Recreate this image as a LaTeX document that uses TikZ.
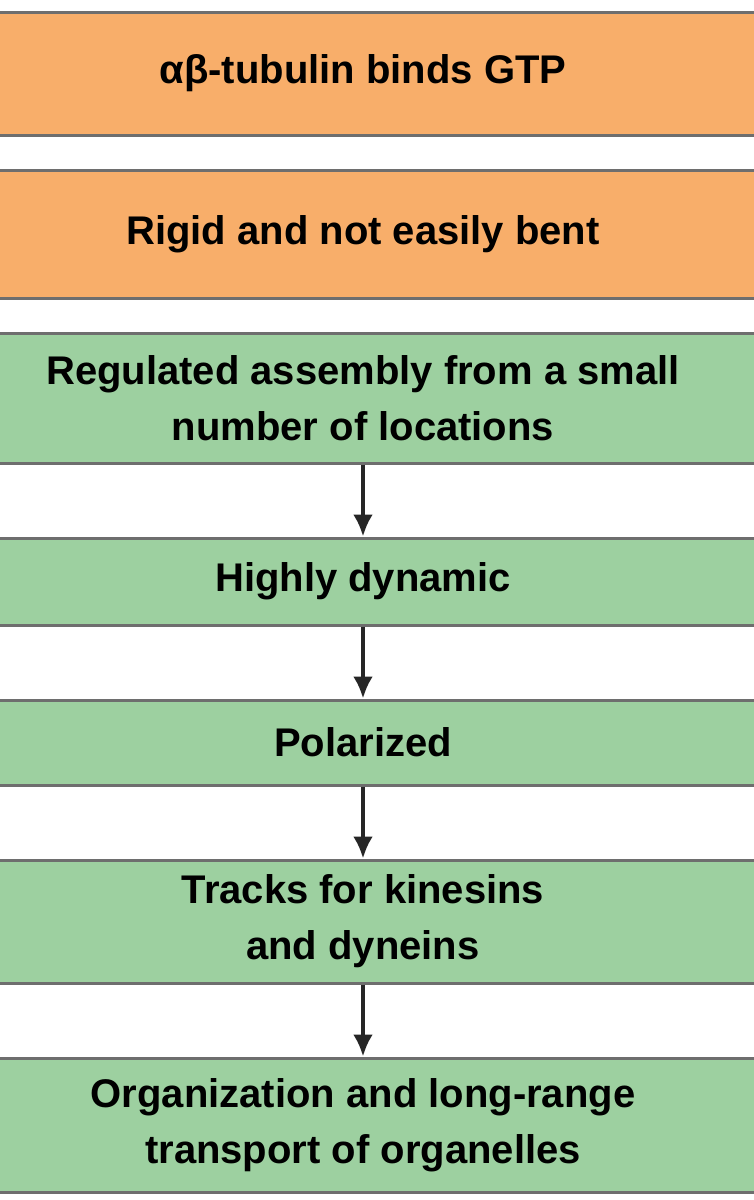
\documentclass[tikz,border=0pt]{standalone}
\usepackage{fontspec}
\setmainfont{Liberation Sans}
\definecolor{boxorange}{HTML}{F8AE6A}
\definecolor{boxgreen}{HTML}{9DD0A0}
\definecolor{boxedge}{HTML}{6E6E6E}
\tikzset{
  propbox/.style={draw=boxedge, line width=3pt, minimum width=820pt, inner sep=0pt,
    align=center, font=\fontsize{40}{56}\selectfont\bfseries},
  orangebox/.style={propbox, fill=boxorange},
  greenbox/.style={propbox, fill=boxgreen},
  flowarrow/.style={-{Latex[length=22pt,width=20pt]}, line width=4pt, black!85}
}
\usetikzlibrary{arrows.meta}
\begin{document}
\begin{tikzpicture}[x=1pt,y=-1pt]
\useasboundingbox (0,0) rectangle (753,1200);
\node[orangebox, minimum height=123pt] (gtp) at (363,73.5) {αβ-tubulin binds GTP};
\node[orangebox, minimum height=128pt] (rigid) at (363,234) {Rigid and not easily bent};
\node[greenbox, minimum height=130pt] (assembly) at (363,398) {Regulated assembly from a small\\number of locations};
\node[greenbox, minimum height=87pt] (dynamic) at (363,581.5) {Highly dynamic};
\node[greenbox, minimum height=85pt] (polar) at (363,742.5) {Polarized};
\node[greenbox, minimum height=123pt] (tracks) at (363,921.5) {Tracks for kinesins\\and dyneins};
\node[greenbox, minimum height=134pt] (organel) at (363,1125) {Organization and long-range\\transport of organelles};

\foreach \from/\to in {assembly/dynamic,dynamic/polar,polar/tracks,tracks/organel}
\draw[flowarrow] (\from.south) -- (\to.north);
\end{tikzpicture}
\end{document}
